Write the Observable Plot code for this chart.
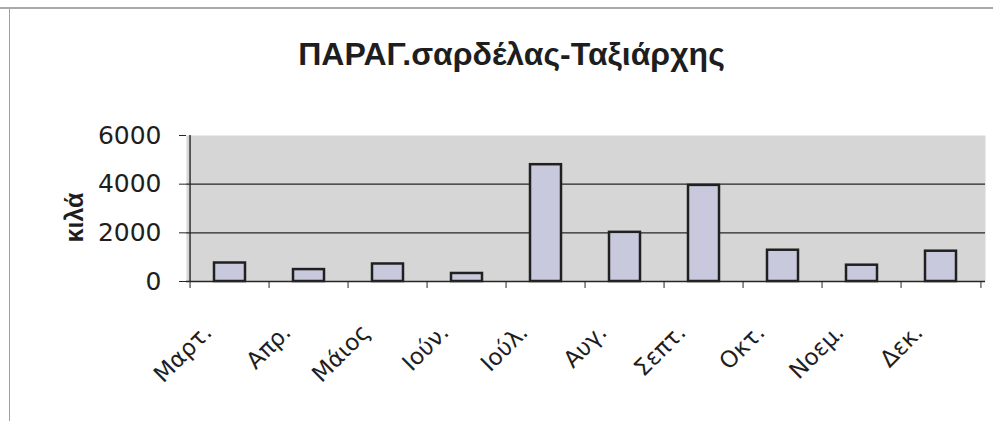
<!DOCTYPE html>
<html><head><meta charset="utf-8">
<script src="https://cdn.jsdelivr.net/npm/d3@7"></script>
<script src="https://cdn.jsdelivr.net/npm/@observablehq/plot@0.6"></script>
<style>
body{margin:0;background:#fff;font-family:"Liberation Sans",Arial,sans-serif;}
#wrap{position:relative;width:993px;height:421px;overflow:hidden;background:#fff}
#topline{position:absolute;left:0;top:7px;width:993px;height:2px;background:#a9a9a9}
#leftline{position:absolute;left:9px;top:9px;width:1px;height:412px;background:#a0a0a0}
#title{position:absolute;left:30px;top:36px;width:963px;height:36px;line-height:36px;text-align:center;font-size:32px;font-weight:bold;color:#1e1e1e}
#chart{position:absolute;left:0;top:100px}
</style></head>
<body>
<div id="wrap">
  <div id="topline"></div>
  <div id="leftline"></div>
  <div id="title">ΠΑΡΑΓ.σαρδέλας-Ταξιάρχης</div>
  <div id="chart"></div>
</div>
<script>
const months = ["Μαρτ.","Απρ.","Μάιος","Ιούν.","Ιούλ.","Αυγ.","Σεπτ.","Οκτ.","Νοεμ.","Δεκ."];
const kilos  = [760, 490, 720, 330, 4800, 2020, 3950, 1285, 670, 1245];
const yTicks = [0, 2000, 4000, 6000];
const gridValues = [2000, 4000];
const yLabel = "κιλά";

const data = months.map((m, i) => ({month: m, value: kilos[i]}));

const W = 993, H = 321, mL = 186, mR = 8, mT = 35, mB = 140;
const step = (W - mL - mR) / months.length;
const ink = "#1e1e1e";
const axisInk = "#262626";
const wide = '"DejaVu Sans", Verdana, sans-serif';

const chart = Plot.plot({
  width: W, height: H,
  marginLeft: mL, marginRight: mR, marginTop: mT, marginBottom: mB,
  style: {fontFamily: '"Liberation Sans", Arial, sans-serif', color: ink, background: "transparent"},
  x: {domain: months, paddingInner: 0.605, paddingOuter: 0.3025},
  y: {domain: [0, 6000]},
  marks: [
    Plot.frame({fill: "#d6d6d6", stroke: null}),
    Plot.ruleY(gridValues, {stroke: axisInk, strokeWidth: 1.4}),
    Plot.barY(data, {x: "month", y: "value", fill: "#c9c9de", stroke: "#202020", strokeWidth: 2.5}),
    Plot.ruleY([0], {stroke: axisInk, strokeWidth: 1.4}),
    Plot.ruleX([months[0]], {y1: 0, y2: 6000, dx: -step / 2, stroke: axisInk, strokeWidth: 1.4}),
    Plot.axisY({ticks: yTicks, tickSize: 7, tickPadding: 18, tickFormat: d3.format("d"), fontSize: 25, fontFamily: wide, label: null, stroke: axisInk}),
    Plot.axisX({tickSize: 7, tickFormat: () => "", label: null, dx: -step / 2, stroke: axisInk}),
    Plot.axisX({ticks: [months[months.length - 1]], tickSize: 7, tickFormat: () => "", label: null, dx: step / 2, stroke: axisInk}),
    Plot.axisX({tickSize: 0, tickPadding: 47, tickRotate: -45, fontSize: 23, fontFamily: wide, label: null, dx: -22, textAnchor: "end"}),
    Plot.text([yLabel], {frameAnchor: "left", text: d => d, rotate: -90, dx: -112, dy: 9, textAnchor: "middle", lineAnchor: "middle", fontSize: 25, fontWeight: "bold", fill: ink})
  ]
});
document.getElementById("chart").appendChild(chart);
</script>
</body></html>
